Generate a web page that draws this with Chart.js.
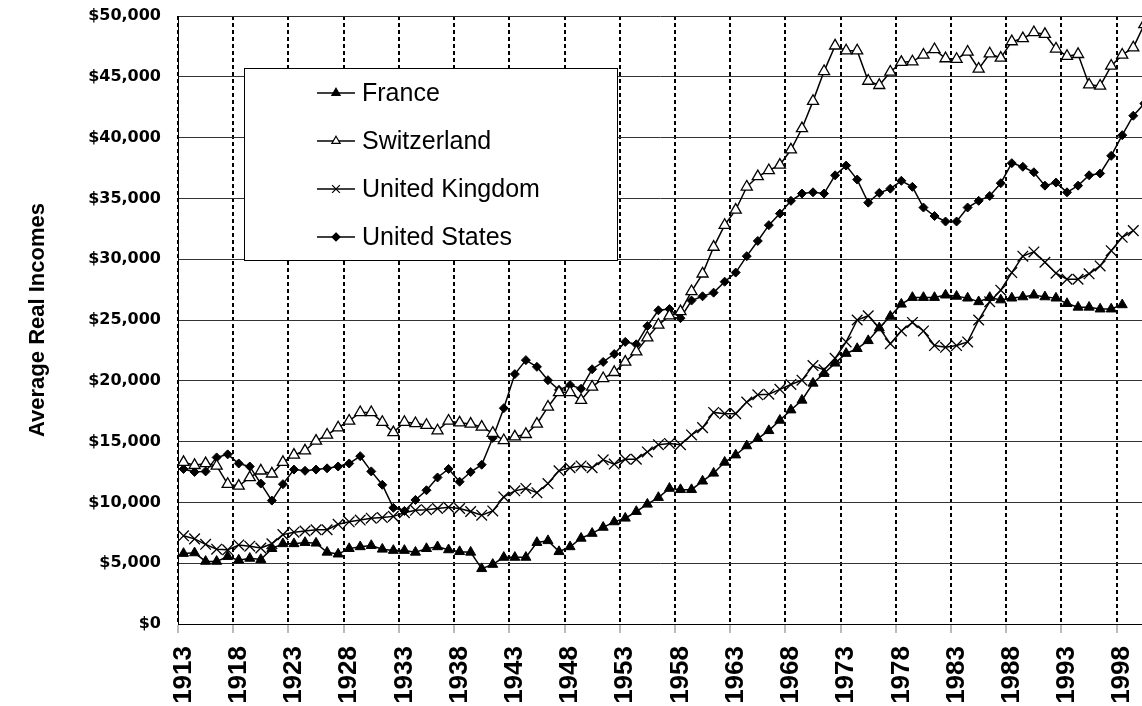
<!DOCTYPE html>
<html>
<head>
<meta charset="utf-8">
<title>Average Real Incomes</title>
<script src="https://cdn.jsdelivr.net/npm/chart.js@4.4.1/dist/chart.umd.min.js"></script>
<style>
    html, body { margin: 0; padding: 0; background: #fff; overflow: hidden; }
    #wrap { position: relative; width: 1142px; height: 706px; }
</style>
</head>
<body>
<div id="wrap"><canvas id="incomeChart"></canvas></div>
<script>
const years = [
    1913, 1914, 1915, 1916, 1917, 1918, 1919, 1920, 1921, 1922,
    1923, 1924, 1925, 1926, 1927, 1928, 1929, 1930, 1931, 1932,
    1933, 1934, 1935, 1936, 1937, 1938, 1939, 1940, 1941, 1942,
    1943, 1944, 1945, 1946, 1947, 1948, 1949, 1950, 1951, 1952,
    1953, 1954, 1955, 1956, 1957, 1958, 1959, 1960, 1961, 1962,
    1963, 1964, 1965, 1966, 1967, 1968, 1969, 1970, 1971, 1972,
    1973, 1974, 1975, 1976, 1977, 1978, 1979, 1980, 1981, 1982,
    1983, 1984, 1985, 1986, 1987, 1988, 1989, 1990, 1991, 1992,
    1993, 1994, 1995, 1996, 1997, 1998, 1999, 2000
];

// year labels shown on the x axis
const tickYears = [1913, 1918, 1923, 1928, 1933, 1938, 1943, 1948, 1953, 1958,
    1963, 1968, 1973, 1978, 1983, 1988, 1993, 1998];

const france = [
    5800, 5850, 5150, 5150, 5550, 5250, 5400, 5300, 6200, 6600,
    6600, 6700, 6650, 5900, 5750, 6200, 6350, 6450, 6150, 6050,
    6050, 5900, 6200, 6350, 6100, 5950, 5900, 4550, 4900, 5480,
    5480, 5480, 6700, 6850, 5950, 6350, 7050, 7450, 7950, 8400,
    8700, 9250, 9850, 10400, 11150, 11050, 11050, 11750, 12400, 13300,
    13900, 14650, 15250, 15900, 16750, 17600, 18400, 19800, 20600, 21450,
    22250, 22650, 23300, 24350, 25300, 26300, 26850, 26850, 26850, 27050,
    26950, 26800, 26500, 26850, 26650, 26800, 26900, 27050, 26900, 26800,
    26350, 26050, 26050, 25900, 25900, 26250, null, null
];

const switzerland = [
    13300, 13050, 13200, 13000, 11500, 11350, 12050, 12600, 12350, 13300,
    13900, 14250, 15050, 15550, 16150, 16700, 17400, 17400, 16600, 15750,
    16600, 16500, 16350, 15900, 16700, 16550, 16450, 16200, 15700, 15100,
    15400, 15600, 16450, 17850, 19050, 19050, 18400, 19500, 20200, 20700,
    21550, 22400, 23550, 24600, 25350, 25700, 27350, 28800, 31000, 32800,
    34050, 35950, 36800, 37300, 37750, 39000, 40750, 43000, 45450, 47550,
    47150, 47150, 44650, 44300, 45400, 46200, 46250, 46800, 47250, 46500,
    46450, 47050, 45650, 46900, 46550, 47900, 48150, 48650, 48500, 47300,
    46700, 46850, 44350, 44250, 45900, 46800, 47400, 49300
];

const unitedKingdom = [
    7250, 7000, 6550, 6150, 6100, 6500, 6400, 6250, 6600, 7350,
    7550, 7650, 7750, 7750, 8200, 8400, 8550, 8700, 8750, 8850,
    9150, 9350, 9400, 9500, 9600, 9500, 9250, 8950, 9300, 10450,
    10950, 11150, 10800, 11550, 12600, 12850, 13000, 12850, 13500, 13150,
    13550, 13550, 14150, 14750, 14850, 14750, 15550, 16150, 17400, 17300,
    17300, 18250, 18850, 18900, 19300, 19700, 20050, 21250, 20900, 21850,
    23200, 25000, 25350, 24350, 23050, 24100, 24800, 24100, 22900, 22750,
    22900, 23200, 25000, 26500, 27450, 28900, 30250, 30600, 29750, 28850,
    28350, 28350, 28800, 29450, 30700, 31800, 32350, null
];

const unitedStates = [
    12750, 12500, 12550, 13700, 13950, 13200, 12950, 11550, 10150, 11500,
    12700, 12600, 12700, 12800, 12950, 13200, 13800, 12550, 11450, 9550,
    9300, 10200, 11000, 12050, 12750, 11700, 12500, 13100, 15300, 17750,
    20550, 21700, 21150, 20050, 19250, 19650, 19350, 20950, 21550, 22200,
    23200, 23000, 24500, 25800, 25900, 25150, 26600, 26950, 27250, 28150,
    28900, 30250, 31500, 32800, 33750, 34800, 35400, 35500, 35400, 36900,
    37700, 36550, 34650, 35450, 35800, 36450, 35950, 34250, 33550, 33100,
    33100, 34250, 34800, 35200, 36250, 37900, 37600, 37150, 36050, 36300,
    35500, 36050, 36900, 37050, 38500, 40200, 41800, 42800
];

const toPoints = (vals) => years
    .map((yr, i) => ({ x: yr, y: vals[i] }))
    .filter(p => p.y !== null);

function drawMarker(ctx, style, x, y, r, fill, lw) {
    ctx.save();
    ctx.lineWidth = lw;
    ctx.strokeStyle = '#000';
    ctx.fillStyle = fill;
    ctx.beginPath();
    if (style === 'triangle') {
        ctx.moveTo(x, y - r);
        ctx.lineTo(x + r * 0.866, y + r * 0.5);
        ctx.lineTo(x - r * 0.866, y + r * 0.5);
        ctx.closePath();
        ctx.fill();
        ctx.stroke();
    } else if (style === 'crossRot') {
        const d = r * 0.7071;
        ctx.moveTo(x - d, y - d);
        ctx.lineTo(x + d, y + d);
        ctx.moveTo(x + d, y - d);
        ctx.lineTo(x - d, y + d);
        ctx.stroke();
    } else {
        ctx.moveTo(x, y - r);
        ctx.lineTo(x + r, y);
        ctx.lineTo(x, y + r);
        ctx.lineTo(x - r, y);
        ctx.closePath();
        ctx.fill();
        ctx.stroke();
    }
    ctx.restore();
}

// legend box sits inside the plot, top left, like the original
const boxedLegend = {
    id: 'boxedLegend',
    afterDatasetsDraw(chart) {
        const ctx = chart.ctx;
        const box = { left: 244.5, top: 68.5, right: 617.5, bottom: 260.5 };
        const legendRadius = [4.8, 4.8, 5.5, 4];

        ctx.save();
        ctx.fillStyle = '#fff';
        ctx.fillRect(box.left, box.top, box.right - box.left, box.bottom - box.top);
        ctx.strokeStyle = '#000';
        ctx.lineWidth = 1;
        ctx.strokeRect(box.left, box.top, box.right - box.left, box.bottom - box.top);

        chart.data.datasets.forEach((ds, i) => {
            const y = 93 + i * 48;
            ctx.strokeStyle = '#000';
            ctx.lineWidth = 1.5;
            ctx.beginPath();
            ctx.moveTo(317, y);
            ctx.lineTo(355, y);
            ctx.stroke();
            drawMarker(ctx, ds.pointStyle, 336, y, legendRadius[i], ds.pointBackgroundColor, 1.2);

            ctx.fillStyle = '#000';
            ctx.font = '25px "Liberation Sans", Arial, sans-serif';
            ctx.textAlign = 'left';
            ctx.textBaseline = 'middle';
            ctx.fillText(ds.label, 362, y + 1);
        });
        ctx.restore();
    }
};

const ctx = document.getElementById('incomeChart').getContext('2d');

new Chart(ctx, {
    type: 'line',
    data: {
        datasets: [
            {
                label: 'France',
                data: toPoints(france),
                borderColor: '#000',
                borderWidth: 1.5,
                pointStyle: 'triangle',
                pointRadius: 5.8,
                pointBackgroundColor: '#000',
                pointBorderColor: '#000',
                pointBorderWidth: 1
            },
            {
                label: 'Switzerland',
                data: toPoints(switzerland),
                borderColor: '#000',
                borderWidth: 1.5,
                pointStyle: 'triangle',
                pointRadius: 6.4,
                pointBackgroundColor: '#fff',
                pointBorderColor: '#000',
                pointBorderWidth: 1.3
            },
            {
                label: 'United Kingdom',
                data: toPoints(unitedKingdom),
                borderColor: '#000',
                borderWidth: 1.5,
                pointStyle: 'crossRot',
                pointRadius: 7.5,
                pointBackgroundColor: '#000',
                pointBorderColor: '#000',
                pointBorderWidth: 1.3
            },
            {
                label: 'United States',
                data: toPoints(unitedStates),
                borderColor: '#000',
                borderWidth: 1.5,
                pointStyle: 'rectRot',
                pointRadius: 4.5,
                pointBackgroundColor: '#000',
                pointBorderColor: '#000',
                pointBorderWidth: 1
            }
        ]
    },
    options: {
        responsive: true,
        maintainAspectRatio: false,
        animation: false,
        layout: {
            autoPadding: false,
            padding: { top: 16, left: 0, right: 0, bottom: 0 }
        },
        plugins: {
            legend: { display: false },
            tooltip: { enabled: false }
        },
        scales: {
            x: {
                type: 'linear',
                min: 1912.5,
                max: 1999.79,
                afterBuildTicks: (scale) => {
                    scale.ticks = tickYears.map(y => ({ value: y - 0.5 }));
                },
                afterFit: (scale) => {
                    // fixed plot box, no extra room asked for the labels
                    scale.height = 82;
                    scale.paddingLeft = 0;
                    scale.paddingRight = 0;
                },
                grid: {
                    color: '#000',
                    lineWidth: 2,
                    drawTicks: true,
                    tickLength: 9,
                    tickColor: '#777',
                    tickWidth: 1,
                    tickBorderDash: []
                },
                border: {
                    display: true,
                    color: '#000',
                    width: 1,
                    dash: [4, 3]
                },
                ticks: {
                    autoSkip: false,
                    minRotation: 90,
                    maxRotation: 90,
                    padding: 13,
                    labelOffset: 5.5,
                    color: '#000',
                    font: { family: '"Liberation Sans", Arial, sans-serif', size: 26, weight: 'bold' },
                    callback: (value) => String(value + 0.5)
                }
            },
            y: {
                min: 0,
                max: 50000,
                afterFit: (scale) => {
                    scale.width = 178;
                    scale.paddingTop = 0;
                    scale.paddingBottom = 0;
                },
                grid: {
                    color: '#333',
                    lineWidth: 1,
                    drawTicks: false
                },
                border: {
                    display: true,
                    color: '#000',
                    width: 1
                },
                title: {
                    display: true,
                    text: 'Average Real Incomes',
                    color: '#000',
                    padding: { top: 25, bottom: 0 },
                    font: { family: '"Liberation Sans", Arial, sans-serif', size: 22, weight: 'bold' }
                },
                ticks: {
                    stepSize: 5000,
                    padding: 17,
                    color: '#000',
                    font: { family: '"DejaVu Sans", sans-serif', size: 16, weight: 'bold' },
                    callback: (value) => '$' + value.toLocaleString('en-US')
                }
            }
        }
    },
    plugins: [boxedLegend]
});
</script>
</body>
</html>
